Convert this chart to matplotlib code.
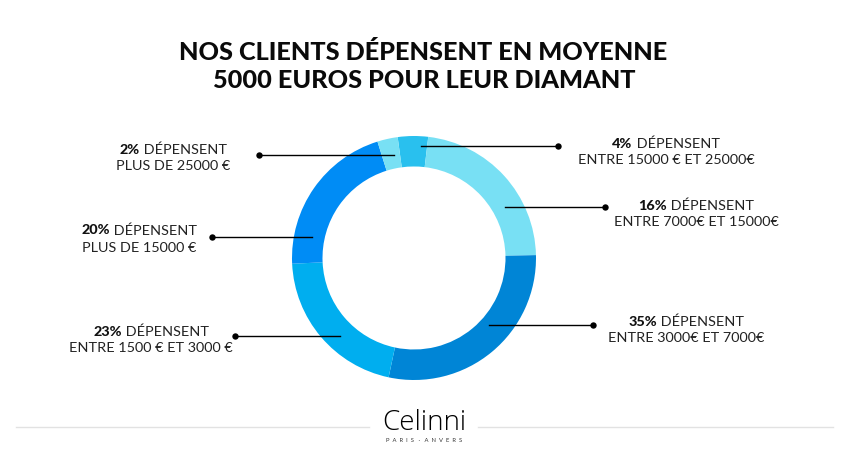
import matplotlib
matplotlib.use('Agg')
import matplotlib.pyplot as plt

plt.rcParams['font.family'] = ['Lato', 'DejaVu Sans']

# ring shares as drawn in the picture, clockwise from the 4% slice
shares = [4.0, 22.75, 28.7, 20.9, 20.9, 2.7]
colors = ['#29c0ee', '#78e0f4', '#0085d6', '#00aeef', '#008cf5', '#78e0f4']

percents = ['4%', '16%', '35%', '23%', '20%', '2%']
line1 = ['DÉPENSENT'] * 6
line2 = ['ENTRE 15000 € ET 25000€', 'ENTRE 7000€ ET 15000€', 'ENTRE 3000€ ET 7000€',
         'ENTRE 1500 € ET 3000 €', 'PLUS DE 15000 €', 'PLUS DE 25000 €']

W, H = 851, 476
fig = plt.figure(figsize=(W / 100, H / 100), dpi=100, facecolor='white')
ax = fig.add_axes([0, 0, 1, 1])
ax.set_xlim(0, W)
ax.set_ylim(0, H)
ax.axis('off')


def py(y):
    return H - y


ax.pie(shares, colors=colors, center=(414, py(258)), radius=122, startangle=97.7,
       counterclock=False, wedgeprops=dict(width=30.5, linewidth=0), frame=True)
ax.set_xlim(0, W)
ax.set_ylim(0, H)
ax.set_aspect('auto')
ax.axis('off')

ax.text(423, py(52), 'NOS CLIENTS DÉPENSENT EN MOYENNE', ha='center', va='center',
        fontsize=18.2, fontweight='black', color='#0a0a0a')
ax.text(424, py(80), '5000 EUROS POUR LEUR DIAMANT', ha='center', va='center',
        fontsize=18.2, fontweight='black', color='#0a0a0a')

# leader lines: dot x, slice end x, y
leaders = [(558, 421, 146), (605, 505, 207), (593, 489, 325),
           (235, 340, 336), (212, 312, 237), (259, 394, 155)]
for dot_x, end_x, y in leaders:
    ax.plot([dot_x, end_x], [py(y), py(y)], color='black', lw=1.0, zorder=3)
    ax.plot(dot_x, py(y), 'o', color='black', ms=4.6, mew=0, zorder=4)

# label centres
label_pos = [(666, 152), (696, 214), (686, 330), (151, 340), (139, 239), (173, 158)]
renderer = fig.canvas.get_renderer()
for pct, a, b, (cx, cy) in zip(percents, line1, line2, label_pos):
    t1 = ax.text(0, py(cy - 8.5), pct, fontsize=10.4, fontweight='black', va='center', color='#111111')
    t2 = ax.text(0, py(cy - 8.5), ' ' + a, fontsize=10.4, va='center', color='#222222')
    w1 = t1.get_window_extent(renderer).width
    w2 = t2.get_window_extent(renderer).width
    left = cx - (w1 + w2) / 2
    t1.set_x(left)
    t2.set_x(left + w1)
    ax.text(cx, py(cy + 8.5), b, fontsize=10.4, ha='center', va='center', color='#222222')

# footer
ax.plot([16, 369], [py(427), py(427)], color='#e2e2e2', lw=1.0)
ax.plot([478, 833], [py(427), py(427)], color='#e2e2e2', lw=1.0)
ax.text(424, py(423), 'Celinni', ha='center', va='center', fontsize=20,
        family='Open Sans', fontweight='light', color='black')
ax.text(424.5, py(440), 'P  A  R  I  S   ·   A  N  V  E  R  S', ha='center', va='center', fontsize=4.2,
        color='#333333')

fig.savefig('out.png', dpi=100, facecolor='white')
